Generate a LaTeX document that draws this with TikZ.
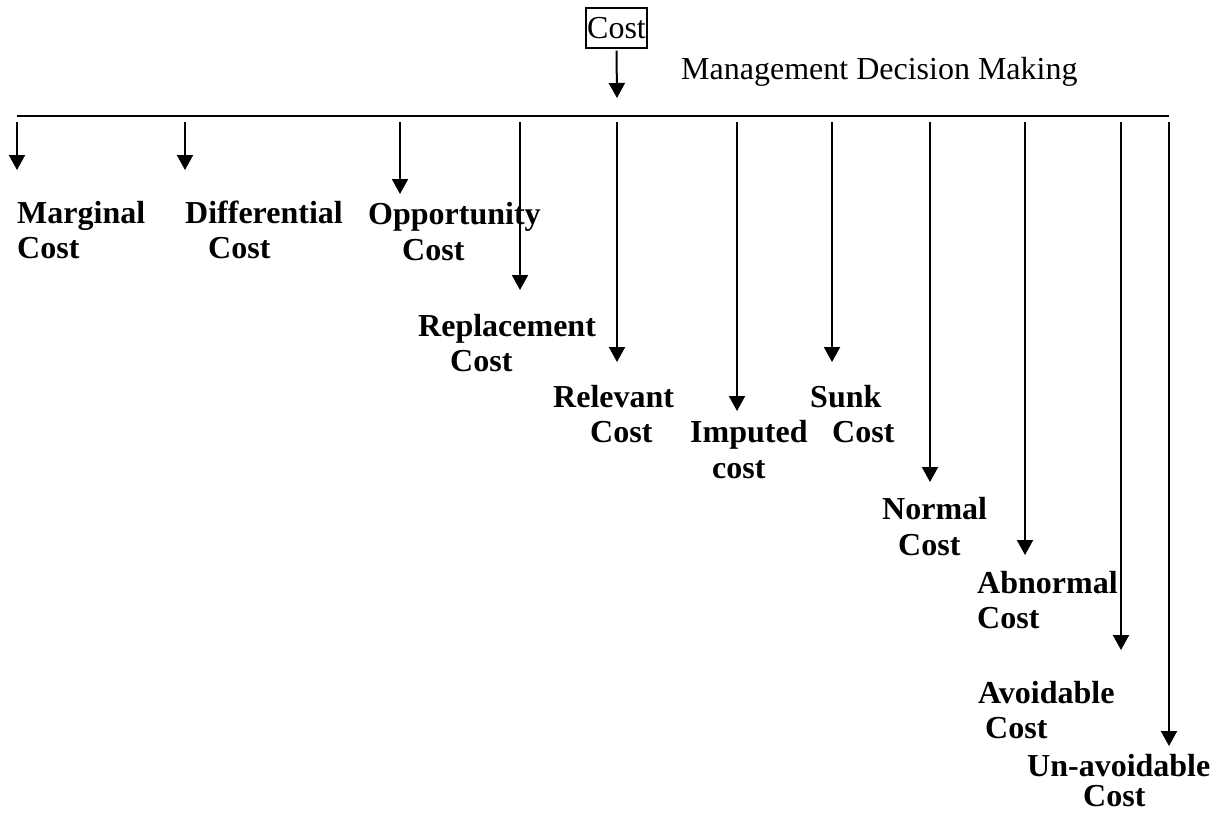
\documentclass[tikz,border=0pt]{standalone}
\usepackage{fontspec}
\setmainfont{Liberation Serif}
\usetikzlibrary{arrows.meta}
\begin{document}
\begin{tikzpicture}[x=1pt,y=-1pt,
  lbl/.style={font=\fontsize{32}{36}\selectfont\bfseries, anchor=base west, inner sep=0pt},
  arr/.style={line width=2pt, -{Triangle[width=16pt,length=15pt]}},
  bar/.style={line width=1.4pt}
]
\useasboundingbox (0,0) rectangle (1218,814);
\node[draw, line width=1.4pt, inner sep=0pt, minimum width=61pt, minimum height=40pt,
      font=\fontsize{32}{36}\selectfont] (cost) at (616.5,28) {Cost};
\node[anchor=base west, inner sep=0pt, font=\fontsize{32}{36}\selectfont] (mdm) at (681,79) {Management Decision Making};
\coordinate (hub) at (617,98);
\draw[arr] ([yshift=-2pt]cost.south) -- (hub);
\coordinate (L) at (17,116);
\coordinate (R) at (1169,116);
\draw[bar] (L) -- (R);
\foreach \n/\x/\t in {a/17/170, b/185/170, c/400/194, d/520/290, e/617/362, f/737/411, g/832/362, h/930/482, i/1025/555, j/1121/650, k/1169/746}{
  \coordinate (s\n) at (\x,122);
  \coordinate (t\n) at (\x,\t);
  \draw[arr] (s\n) -- (t\n);
}
\node[lbl] (m1) at (17,223) {Marginal};
\node[lbl] (m2) at (17,258) {Cost};
\node[lbl] (d1) at (185,223) {Differential};
\node[lbl] (d2) at (208,258) {Cost};
\node[lbl] (o1) at (368,224) {Opportunity};
\node[lbl] (o2) at (402,260) {Cost};
\node[lbl] (r1) at (418,336) {Replacement};
\node[lbl] (r2) at (450,371) {Cost};
\node[lbl] (v1) at (553,407) {Relevant};
\node[lbl] (v2) at (590,442) {Cost};
\node[lbl] (p1) at (690,442) {Imputed};
\node[lbl] (p2) at (712,478) {cost};
\node[lbl] (s1) at (810,407) {Sunk};
\node[lbl] (s2) at (832,442) {Cost};
\node[lbl] (n1) at (882,519) {Normal};
\node[lbl] (n2) at (898,555) {Cost};
\node[lbl] (ab1) at (977,593) {Abnormal};
\node[lbl] (ab2) at (977,628) {Cost};
\node[lbl] (av1) at (978,703) {Avoidable};
\node[lbl] (av2) at (985,738) {Cost};
\node[lbl] (u1) at (1027,776) {Un-avoidable};
\node[lbl] (u2) at (1083,806) {Cost};
\end{tikzpicture}
\end{document}
